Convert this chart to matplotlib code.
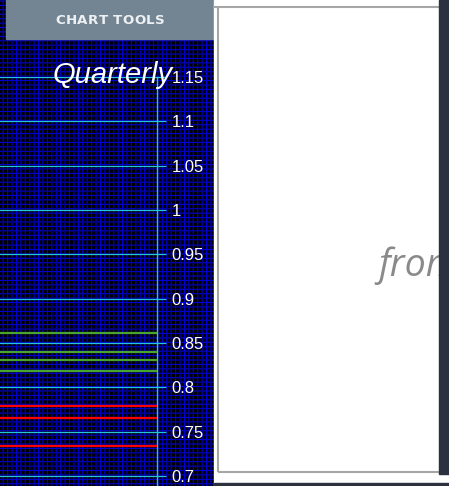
import numpy as np
import matplotlib
matplotlib.use("Agg")
import matplotlib.pyplot as plt
from matplotlib.patches import Rectangle
from matplotlib.font_manager import FontProperties
from matplotlib.textpath import TextToPath

# ---- data ----
tick_values = [0.7, 0.75, 0.8, 0.85, 0.9, 0.95, 1.0, 1.05, 1.1, 1.15]
tick_labels = ["0.7", "0.75", "0.8", "0.85", "0.9", "0.95", "1", "1.05", "1.1", "1.15"]
green_levels = [0.8616, 0.8395, 0.8305, 0.8184]
red_levels = [0.7789, 0.7650, 0.7338]
title_text = "Quarterly"
button_text = "CHART TOOLS"
side_text = "from"

W, H = 449, 486
fig = plt.figure(figsize=(W / 100, H / 100), dpi=100)

# background / decoration axes in pixel coordinates
bg = fig.add_axes([0, 0, 1, 1])
bg.set_xlim(0, W)
bg.set_ylim(H, 0)
bg.axis("off")
bg.set_zorder(0)

PANEL_R = 214
# grid texture of the dark panel
period, lw_px = 4.42, 1.15
def coverage(n, off):
    c = np.arange(n) + 0.5
    d = np.abs(((c - off + period / 2) % period) - period / 2)
    return np.clip(lw_px / 2 + 0.5 - d, 0, 1)
cx = coverage(PANEL_R, 3.2)
cy = coverage(H, 2.0)
cov = np.maximum(cx[None, :], cy[:, None])
tex = np.zeros((H, PANEL_R, 3))
tex[..., 2] = cov * 0.82
bg.imshow(tex, extent=(0, PANEL_R, H, 0), interpolation="nearest", zorder=0, aspect="auto")
bg.set_xlim(0, W)
bg.set_ylim(H, 0)

# button
bg.add_patch(Rectangle((6, 0), PANEL_R - 6, 39, color="#738592", zorder=2))
prop = FontProperties(family="DejaVu Sans", weight="bold", size=9.6)
t2p = TextToPath()
def adv(s):
    w, _, _ = t2p.get_text_width_height_descent(s, prop, ismath=False)
    return w * 100 / 72
target_w = 109.0
base_w = adv(button_text)
track = max(0.0, (target_w - base_w) / (len(button_text) - 1))
x0 = 110 - (base_w + track * (len(button_text) - 1)) / 2
for i, ch in enumerate(button_text):
    x = x0 + adv(button_text[:i]) + track * i
    bg.text(x, 24.5, ch, color="#eef1f3", fontproperties=prop,
            ha="left", va="baseline", zorder=3)

# right white panel
bg.add_patch(Rectangle((PANEL_R, 0), W - PANEL_R, H, color="white", zorder=2))
border = "#a6a6a6"
bg.plot([213, 440], [7, 7], color=border, lw=1.5, zorder=3, solid_capstyle="butt")
bg.plot([217.5, 217.5], [7, 471.5], color=border, lw=1.5, zorder=3, solid_capstyle="butt")
bg.plot([217.5, 440], [471.5, 471.5], color=border, lw=1.5, zorder=3, solid_capstyle="butt")
bg.text(378, 276, side_text, color="#8a8a8a", fontsize=27, style="italic",
        family="Open Sans", ha="left", va="baseline", zorder=4)
# dark strips
bg.add_patch(Rectangle((438.5, 0), W - 438.5, 474, color="#2b313e", zorder=6))
bg.add_patch(Rectangle((PANEL_R, 483), W - PANEL_R, H - 483, color="#2b313e", zorder=6))

# chart axes
top_px, bot_px, right_px = 77, 486, 157
ax = fig.add_axes([0, 0, right_px / W, (bot_px - top_px) / H])
ax.set_zorder(1)
ax.patch.set_alpha(0)
px_per_unit = (476 - 77) / 0.45
ax.set_ylim(0.7 - (bot_px - 476) / px_per_unit, 1.15)
ax.set_xlim(0, 1)
cyan = "#22c6d6"
for s in ["top", "left", "bottom"]:
    ax.spines[s].set_visible(False)
ax.spines["right"].set_color(cyan)
ax.spines["right"].set_linewidth(1.0)
ax.set_xticks([])
ax.yaxis.tick_right()
ax.set_yticks(tick_values)
ax.set_yticklabels(tick_labels)
ax.tick_params(axis="y", colors=cyan, length=6.3, width=0.9, direction="out",
               pad=4.3, labelcolor="white", labelsize=12)
for lbl in ax.get_yticklabels():
    lbl.set_family("Liberation Sans")
ax.yaxis.grid(True, color=cyan, lw=0.9)
ax.set_axisbelow(True)
for v in green_levels:
    ax.axhline(v, color="#4aa52e", lw=1.6, zorder=3)
for v in red_levels:
    ax.axhline(v, color="#ff0000", lw=1.6, zorder=3)

fig.text(53, 83, title_text, transform=bg.transData, color="white", fontsize=21,
         style="italic", family="Liberation Sans", ha="left", va="baseline", zorder=10)

fig.savefig("out.png", dpi=100)
